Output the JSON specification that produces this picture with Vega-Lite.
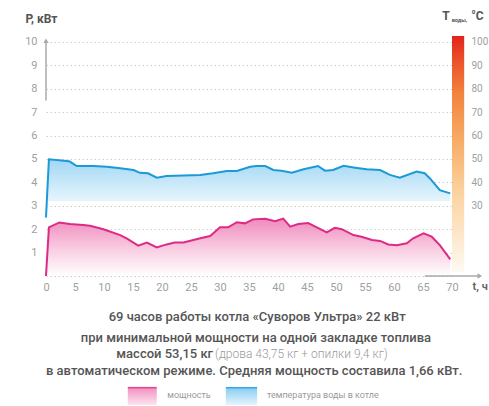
{
  "$schema": "https://vega.github.io/schema/vega-lite/v6.json",
  "autosize": {"type": "none"},
  "width": 406,
  "height": 240,
  "padding": {"left": 46, "top": 36, "right": 37, "bottom": 130},
  "background": "white",
  "config": {"font": "Roboto", "view": {"stroke": null}},
  "datasets": {
    "power": [
      {"t": 0, "p": 0}, {"t": 0.5, "p": 2.08}, {"t": 2.3, "p": 2.29}, {"t": 4.1, "p": 2.22},
      {"t": 6.4, "p": 2.18}, {"t": 7.6, "p": 2.15}, {"t": 9.9, "p": 2.0}, {"t": 12.8, "p": 1.75},
      {"t": 13.9, "p": 1.61}, {"t": 15.9, "p": 1.3}, {"t": 17.4, "p": 1.43}, {"t": 19.1, "p": 1.22},
      {"t": 20.8, "p": 1.35}, {"t": 22.2, "p": 1.43}, {"t": 23.7, "p": 1.43}, {"t": 26.6, "p": 1.61},
      {"t": 28.3, "p": 1.71}, {"t": 28.8, "p": 1.82}, {"t": 30.0, "p": 2.08}, {"t": 31.4, "p": 2.08},
      {"t": 32.9, "p": 2.3}, {"t": 34.3, "p": 2.25}, {"t": 35.7, "p": 2.42}, {"t": 37.8, "p": 2.45},
      {"t": 39.5, "p": 2.34}, {"t": 40.9, "p": 2.45}, {"t": 42.1, "p": 2.11}, {"t": 43.5, "p": 2.22},
      {"t": 45.2, "p": 2.26}, {"t": 46.7, "p": 2.08}, {"t": 48.4, "p": 1.86}, {"t": 49.8, "p": 2.06},
      {"t": 51.0, "p": 2.0}, {"t": 53.0, "p": 1.75}, {"t": 54.4, "p": 1.68}, {"t": 56.2, "p": 1.54},
      {"t": 57.6, "p": 1.5}, {"t": 59.0, "p": 1.35}, {"t": 60.5, "p": 1.31}, {"t": 62.2, "p": 1.4},
      {"t": 63.3, "p": 1.61}, {"t": 65.1, "p": 1.82}, {"t": 66.5, "p": 1.68}, {"t": 67.9, "p": 1.32},
      {"t": 69.7, "p": 0.71}
    ],
    "temp": [
      {"t": 0, "c": 25}, {"t": 0.5, "c": 49.9}, {"t": 3.6, "c": 49.1}, {"t": 4.1, "c": 48.9},
      {"t": 5.3, "c": 47.0}, {"t": 8.2, "c": 47.0}, {"t": 10.5, "c": 46.7}, {"t": 12.8, "c": 46.0},
      {"t": 15.1, "c": 45.3}, {"t": 16.2, "c": 44.1}, {"t": 17.6, "c": 43.9}, {"t": 19.1, "c": 42.0},
      {"t": 20.8, "c": 42.7}, {"t": 23.7, "c": 42.9}, {"t": 26.6, "c": 43.2}, {"t": 28.8, "c": 43.9},
      {"t": 31.2, "c": 44.9}, {"t": 32.9, "c": 44.9}, {"t": 35.2, "c": 46.7}, {"t": 36.3, "c": 47.0},
      {"t": 37.8, "c": 47.0}, {"t": 39.2, "c": 45.3}, {"t": 40.6, "c": 45.0}, {"t": 42.4, "c": 44.1},
      {"t": 44.4, "c": 45.6}, {"t": 46.9, "c": 47.0}, {"t": 48.1, "c": 45.0}, {"t": 49.5, "c": 45.3},
      {"t": 51.3, "c": 47.1}, {"t": 53.3, "c": 46.3}, {"t": 55.3, "c": 45.6}, {"t": 57.6, "c": 45.3},
      {"t": 59.3, "c": 43.2}, {"t": 61.0, "c": 42.0}, {"t": 63.9, "c": 44.6}, {"t": 65.3, "c": 43.9},
      {"t": 66.2, "c": 41.7}, {"t": 67.9, "c": 36.7}, {"t": 69.7, "c": 35.3}
    ]
  },
  "encoding": {
    "x": {
      "field": "t", "type": "quantitative",
      "scale": {"domain": [0, 70], "nice": false, "zero": false},
      "axis": {
        "values": [0, 5, 10, 15, 20, 25, 30, 35, 40, 45, 50, 55, 60, 65, 70],
        "domain": false, "ticks": false, "grid": false,
        "labelColor": "#a0a0a0", "labelFontSize": 11, "labelPadding": 5,
        "labelFlush": false,
        "title": "t, ч", "titleAngle": 0, "titleX": 426, "titleY": 10,
        "titleAlign": "left", "titleBaseline": "middle",
        "titleFontSize": 11, "titleFontWeight": "bold", "titleColor": "#666"
      }
    }
  },
  "layer": [
    {
      "encoding": {
        "y": {
          "field": "p", "type": "quantitative",
          "scale": {"domain": [0, 10.256], "nice": false, "zero": false},
          "axis": {
            "values": [0, 1, 2, 3, 4, 5, 6, 7, 8, 9, 10],
            "labelExpr": "datum.value == 0 ? '' : datum.label",
            "domain": false, "ticks": false,
            "grid": true, "gridColor": "#cfcfcf", "gridDash": [1.5, 2.5], "gridWidth": 1,
            "labelColor": "#a0a0a0", "labelFontSize": 11, "labelPadding": 9,
            "title": "P, кВт", "titleAngle": 0, "titleX": -21, "titleY": -18,
            "titleAlign": "left", "titleBaseline": "middle",
            "titleFontSize": 12, "titleFontWeight": "bold", "titleColor": "#555"
          }
        }
      },
      "layer": [
        {
          "data": {"name": "power"},
          "mark": {
            "type": "area",
            "fill": {"gradient": "linear", "x1": 0, "y1": 0, "x2": 0, "y2": 1,
              "stops": [{"offset": 0, "color": "#f08bbd"}, {"offset": 0.55, "color": "#f9cfe3"}, {"offset": 1, "color": "#ffffff"}]}
          },
          "encoding": {}
        },
        {
          "data": {"name": "power"},
          "mark": {"type": "line", "color": "#dd2b85", "strokeWidth": 2},
          "encoding": {}
        },
        {
          "data": {"values": [{"t": 0, "p": 7.5, "p2": 10.0}]},
          "mark": {"type": "rule", "color": "#a8a8a8", "strokeWidth": 1.5},
          "encoding": {"y2": {"field": "p2"}}
        },
        {
          "data": {"values": [{"t": 0, "p": 10.05, "s": "triangle-up"}, {"t": 74.8, "p": 0, "s": "triangle-right"}]},
          "mark": {"type": "point", "filled": true, "color": "#a8a8a8", "size": 28, "opacity": 1},
          "encoding": {"shape": {"field": "s", "type": "nominal", "scale": null}}
        },
        {
          "data": {"values": [{"t": 65.3, "t2": 74.5, "p": 0}]},
          "mark": {"type": "rule", "color": "#a8a8a8", "strokeWidth": 1.5},
          "encoding": {"x2": {"field": "t2"}}
        },
        {
          "data": {"values": [
            {"t": 36.4, "p": -1.75, "text": "69 часов работы котла «Суворов Ультра» 22 кВт"},
            {"t": 36.2, "p": -2.65, "text": "при минимальной мощности на одной закладке топлива"},
            {"t": 35.9, "p": -4.06, "text": "в автоматическом режиме. Средняя мощность составила 1,66 кВт."}
          ]},
          "mark": {"type": "text", "align": "center", "baseline": "middle", "fontSize": 13, "fontWeight": 500, "color": "#555"},
          "encoding": {"text": {"field": "text"}}
        },
        {
          "data": {"values": [{"t": 28.8, "p": -3.35, "text": "массой 53,15 кг"}]},
          "mark": {"type": "text", "align": "right", "baseline": "middle", "fontSize": 13, "fontWeight": 500, "color": "#555"},
          "encoding": {"text": {"field": "text"}}
        },
        {
          "data": {"values": [{"t": 29.15, "p": -3.35, "text": "(дрова 43,75 кг + опилки 9,4 кг)"}]},
          "mark": {"type": "text", "align": "left", "baseline": "middle", "fontSize": 12, "fontWeight": 300, "color": "#9a9a9a"},
          "encoding": {"text": {"field": "text"}}
        },
        {
          "data": {"values": [
            {"t": 20.9, "p": -5.09, "text": "мощность"},
            {"t": 38.1, "p": -5.09, "text": "температура воды в котле"}
          ]},
          "mark": {"type": "text", "align": "left", "baseline": "middle", "fontSize": 9, "color": "#9a9a9a"},
          "encoding": {"text": {"field": "text"}}
        },
        {
          "data": {"values": [{"t": 14.1, "t2": 19.1, "p": -4.74, "p2": -5.51}]},
          "mark": {"type": "rect",
            "fill": {"gradient": "linear", "x1": 0, "y1": 0, "x2": 0, "y2": 1,
              "stops": [{"offset": 0, "color": "#dd2b85"}, {"offset": 0.14, "color": "#f39ac6"}, {"offset": 1, "color": "#fde3ef"}]}},
          "encoding": {"x2": {"field": "t2"}, "y2": {"field": "p2"}}
        },
        {
          "data": {"values": [{"t": 31.0, "t2": 36.4, "p": -4.74, "p2": -5.51}]},
          "mark": {"type": "rect",
            "fill": {"gradient": "linear", "x1": 0, "y1": 0, "x2": 0, "y2": 1,
              "stops": [{"offset": 0, "color": "#1b9ad6"}, {"offset": 0.14, "color": "#92d0f3"}, {"offset": 1, "color": "#e5f4fd"}]}},
          "encoding": {"x2": {"field": "t2"}, "y2": {"field": "p2"}}
        },
        {
          "data": {"values": [{"t": 68.3, "p": 11.12, "text": "T"}, {"t": 73.3, "p": 11.12, "text": "°C"}]},
          "mark": {"type": "text", "align": "left", "baseline": "middle", "fontSize": 12, "fontWeight": "bold", "color": "#555"},
          "encoding": {"text": {"field": "text"}}
        },
        {
          "data": {"values": [{"t": 69.95, "p": 10.93, "text": "воды,"}]},
          "mark": {"type": "text", "align": "left", "baseline": "middle", "fontSize": 5.5, "fontWeight": "bold", "color": "#555"},
          "encoding": {"text": {"field": "text"}}
        }
      ]
    },
    {
      "encoding": {
        "y": {
          "field": "c", "type": "quantitative",
          "scale": {"domain": [0, 102.56], "nice": false, "zero": false},
          "axis": {
            "orient": "right",
            "values": [30, 40, 50, 60, 70, 80, 90, 100],
            "domain": false, "ticks": false, "grid": false,
            "labelColor": "#a0a0a0", "labelFontSize": 10, "labelPadding": 19,
            "title": null
          }
        }
      },
      "layer": [
        {
          "data": {"name": "temp"},
          "mark": {
            "type": "area",
            "fill": {"gradient": "linear", "x1": 0, "y1": 0, "x2": 0, "y2": 1,
              "stops": [{"offset": 0, "color": "#a0d7f5"}, {"offset": 0.6, "color": "#dcf0fb"}, {"offset": 1, "color": "#ffffff"}]}
          },
          "encoding": {"y2": {"datum": 32}}
        },
        {
          "data": {"name": "temp"},
          "mark": {"type": "line", "color": "#1b9ad6", "strokeWidth": 2},
          "encoding": {}
        },
        {
          "data": {"values": [{"t": 70.0, "t2": 72.1, "c": 1.7, "c2": 102.56}]},
          "mark": {"type": "rect",
            "fill": {"gradient": "linear", "x1": 0, "y1": 1, "x2": 0, "y2": 0,
              "stops": [
                {"offset": 0, "color": "#fffaf2"},
                {"offset": 0.15, "color": "#fde8cc"},
                {"offset": 0.35, "color": "#fbd19c"},
                {"offset": 0.55, "color": "#f7ad68"},
                {"offset": 0.75, "color": "#f2853f"},
                {"offset": 0.9, "color": "#ea5028"},
                {"offset": 1, "color": "#e3231b"}
              ]}},
          "encoding": {"x2": {"field": "t2"}, "y2": {"field": "c2"}}
        }
      ]
    }
  ],
  "resolve": {"scale": {"y": "independent"}, "axis": {"y": "independent"}}
}
